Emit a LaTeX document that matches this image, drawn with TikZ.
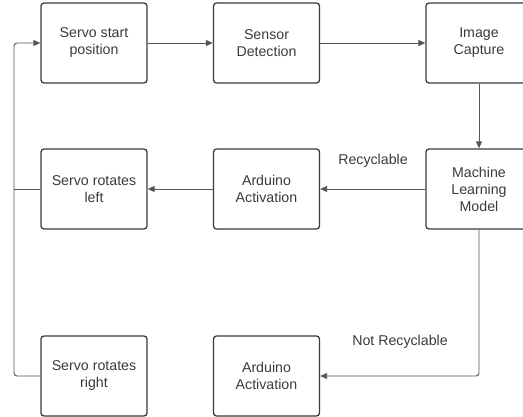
\documentclass[tikz,border=0pt]{standalone}
\usepackage{fontspec}
\setmainfont{Liberation Sans}
\usetikzlibrary{arrows.meta}
\definecolor{boxcol}{HTML}{3A3A3A}
\definecolor{linecol}{HTML}{555555}
\definecolor{textcol}{HTML}{3A3A3A}
\begin{document}
\begin{tikzpicture}[x=1pt,y=-1pt,
  box/.style={draw=boxcol, line width=1.3pt, rounded corners=3pt, minimum width=106pt,
    minimum height=80pt, align=center, font=\fontsize{14.2}{17}\selectfont, text=textcol, inner sep=0pt},
  conn/.style={draw=linecol, line width=0.9pt, rounded corners=3pt, -{Triangle[length=7pt,width=6pt]}},
  plain/.style={draw=linecol, line width=0.9pt},
  lbl/.style={font=\fontsize{14.2}{17}\selectfont, text=textcol, inner sep=0pt}]
\useasboundingbox (0,0) rectangle (523,417);
\clip (0,0) rectangle (523,417);
\node[box] (b1) at (94,43) {Servo start\\position};
\node[box] (b2) at (266.5,43) {Sensor\\Detection};
\node[box] (b3) at (479,43) {Image\\Capture};
\node[box] (l1) at (94,189) {Servo rotates\\left};
\node[box] (a1) at (266.5,189) {Arduino\\Activation};
\node[box] (ml) at (479,189) {Machine\\Learning\\Model};
\node[box] (r1) at (94,376) {Servo rotates\\right};
\node[box] (a2) at (266.5,376) {Arduino\\Activation};
\coordinate (lx) at (14,43);
\coordinate (lj) at (14,189);
\draw[conn] (b1) -- (b2);
\draw[conn] (b2) -- (b3);
\draw[conn] (b3) -- (ml);
\draw[conn] (ml) -- (a1);
\draw[conn] (a1) -- (l1);
\draw[conn] (ml.south) |- (a2.east);
\draw[conn] (r1.west) -| (lx) -- (b1.west);
\draw[plain] (l1.west) -- (lj);
\node[lbl] (t1) at (373,161) {Recyclable};
\node[lbl] (t2) at (400,342) {Not Recyclable};
\end{tikzpicture}
\end{document}
